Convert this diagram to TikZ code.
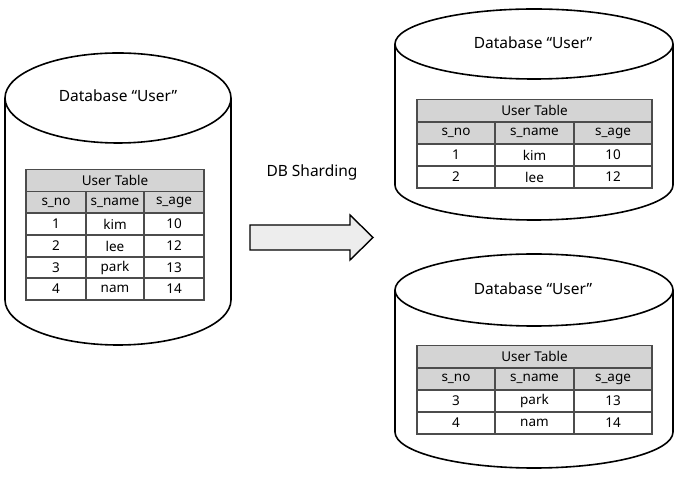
\documentclass[tikz,border=0pt]{standalone}
\usepackage{fontspec}
\setmainfont{Noto Sans}

\begin{document}
\begin{tikzpicture}[
    x=1pt, y=1pt,
    cyl/.style  = {draw=black, line width=1.6pt, fill=white},
    cell/.style = {draw=black!70, line width=1.1pt, inner sep=0pt, minimum height=22pt,
                   font=\fontsize{13.5}{14}\selectfont},
    hcell/.style = {cell, fill=black!17},
    dbl/.style  = {font=\fontsize{15.5}{17}\selectfont},
    shard/.style = {draw=black, line width=1.4pt, fill=black!7, line join=miter}
  ]
  \useasboundingbox (0,0) rectangle (684,476);

  % --- left database (all four rows) ---
  \draw[cyl] (5,378) -- (5,176) arc[start angle=180, end angle=360, x radius=113, y radius=45] -- (231,378);
  \draw[cyl] (118,378) ellipse[x radius=113, y radius=45];
  \node[dbl] (dbL) at (118,380) {Database “User”};

  \node[hcell, minimum width=178pt] (L-ttl) at (115,295.5) {User Table};
  \node[hcell, minimum width=60pt] (L-h1) at (56,273.5)  {s\_no};
  \node[hcell, minimum width=58pt] (L-h2) at (115,273.5) {s\_name};
  \node[hcell, minimum width=60pt] (L-h3) at (174,273.5) {s\_age};
  \foreach \no/\nm/\ag/\y in {1/kim/10/252, 2/lee/12/230, 3/park/13/208.5, 4/nam/14/187}{
    \node[cell, minimum width=60pt] (L-\no-1) at (56,\y)  {\no};
    \node[cell, minimum width=58pt] (L-\no-2) at (115,\y) {\nm};
    \node[cell, minimum width=60pt] (L-\no-3) at (174,\y) {\ag};
  }

  % --- sharding arrow ---
  \node[font=\fontsize{15.5}{17}\selectfont] (lbl) at (312,304) {DB Sharding};
  \coordinate (tip) at (373,238.5);
  \draw[shard] (250,251) -- (350,251) -- (350,261) -- (tip) -- (350,216) -- (350,226) -- (250,226) -- cycle;

  % --- right top database (rows 1,2) ---
  \draw[cyl] (395,432) -- (395,291) arc[start angle=180, end angle=360, x radius=139, y radius=35] -- (673,432);
  \draw[cyl] (534,432) ellipse[x radius=139, y radius=35];
  \node[dbl] (dbA) at (533,433) {Database “User”};

  \node[hcell, minimum width=235pt] (A-ttl) at (534.5,365.5) {User Table};
  \node[hcell, minimum width=78pt] (A-h1) at (456,343)   {s\_no};
  \node[hcell, minimum width=79pt] (A-h2) at (534.5,343) {s\_name};
  \node[hcell, minimum width=78pt] (A-h3) at (613,343)   {s\_age};
  \foreach \no/\nm/\ag/\y in {1/kim/10/321, 2/lee/12/299}{
    \node[cell, minimum width=78pt] (A-\no-1) at (456,\y)   {\no};
    \node[cell, minimum width=79pt] (A-\no-2) at (534.5,\y) {\nm};
    \node[cell, minimum width=78pt] (A-\no-3) at (613,\y)   {\ag};
  }

  % --- right bottom database (rows 3,4) ---
  \draw[cyl] (395,186) -- (395,44) arc[start angle=180, end angle=360, x radius=139, y radius=36] -- (673,186);
  \draw[cyl] (534,186) ellipse[x radius=139, y radius=36];
  \node[dbl] (dbB) at (533,187) {Database “User”};

  \node[hcell, minimum width=235pt] (B-ttl) at (534.5,119.5) {User Table};
  \node[hcell, minimum width=78pt] (B-h1) at (456,97)   {s\_no};
  \node[hcell, minimum width=79pt] (B-h2) at (534.5,97) {s\_name};
  \node[hcell, minimum width=78pt] (B-h3) at (613,97)   {s\_age};
  \foreach \no/\nm/\ag/\y in {3/park/13/75, 4/nam/14/53}{
    \node[cell, minimum width=78pt] (B-\no-1) at (456,\y)   {\no};
    \node[cell, minimum width=79pt] (B-\no-2) at (534.5,\y) {\nm};
    \node[cell, minimum width=78pt] (B-\no-3) at (613,\y)   {\ag};
  }

\end{tikzpicture}
\end{document}
